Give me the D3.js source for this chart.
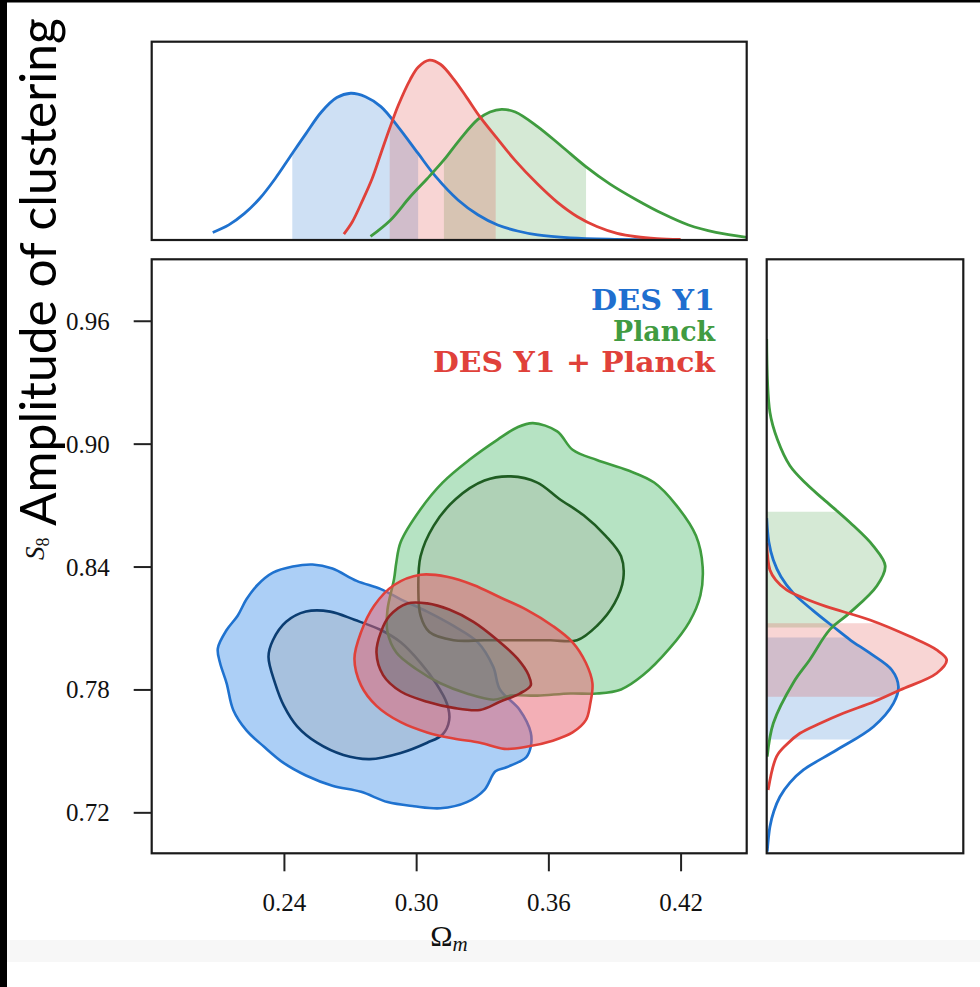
<!DOCTYPE html>
<html>
<head>
<meta charset="utf-8">
<script src="https://cdn.jsdelivr.net/npm/d3@7"></script>
<style>
html, body { margin: 0; padding: 0; background: #fff; }
svg { display: block; }
.tick text { font-family: "Liberation Serif", serif; font-size: 25px; fill: #111; }
.tick line { stroke: #222; stroke-width: 2; }
.frame { fill: none; stroke: #1a1a1a; stroke-width: 2.2; }
</style>
</head>
<body>
<svg id="chart" width="980" height="987"></svg>
<script>
// axis ticks
var omegaTicks = [0.24, 0.30, 0.36, 0.42];
var s8Ticks = [0.72, 0.78, 0.84, 0.90, 0.96];

// legend
var legendLabels = ["DES Y1", "Planck", "DES Y1 + Planck"];

// 2D contours [Omega_m, S8], outer = 95%, inner = 68%
var desOuter = [[0.210,0.800],[0.214,0.809],[0.219,0.816],[0.223,0.824],[0.228,0.831],[0.235,0.837],[0.244,0.840],[0.253,0.841],[0.262,0.839],[0.273,0.833],[0.284,0.829],[0.293,0.824],[0.305,0.818],[0.317,0.811],[0.328,0.803],[0.335,0.791],[0.338,0.780],[0.347,0.770],[0.352,0.759],[0.352,0.752],[0.350,0.747],[0.341,0.742],[0.336,0.740],[0.331,0.731],[0.323,0.725],[0.311,0.722],[0.299,0.723],[0.287,0.725],[0.275,0.730],[0.262,0.733],[0.250,0.738],[0.240,0.744],[0.231,0.752],[0.223,0.760],[0.217,0.770],[0.214,0.783],[0.211,0.793]];
var desInner = [[0.233,0.796],[0.235,0.804],[0.241,0.813],[0.250,0.818],[0.261,0.818],[0.272,0.814],[0.284,0.809],[0.293,0.803],[0.302,0.793],[0.309,0.783],[0.314,0.773],[0.315,0.765],[0.312,0.758],[0.305,0.754],[0.293,0.749],[0.279,0.746],[0.267,0.748],[0.255,0.754],[0.246,0.762],[0.240,0.772],[0.236,0.783]];
var planckOuter = [[0.353,0.910],[0.364,0.906],[0.371,0.897],[0.382,0.892],[0.396,0.887],[0.408,0.881],[0.418,0.870],[0.427,0.855],[0.430,0.840],[0.429,0.826],[0.424,0.813],[0.415,0.800],[0.403,0.787],[0.393,0.780],[0.382,0.778],[0.370,0.778],[0.355,0.777],[0.343,0.777],[0.335,0.775],[0.323,0.778],[0.311,0.783],[0.300,0.790],[0.291,0.798],[0.287,0.808],[0.287,0.819],[0.290,0.834],[0.291,0.842],[0.293,0.852],[0.302,0.868],[0.312,0.881],[0.324,0.892],[0.337,0.902],[0.346,0.908]];
var planckInner = [[0.343,0.884],[0.355,0.881],[0.365,0.873],[0.376,0.865],[0.386,0.855],[0.393,0.845],[0.394,0.834],[0.390,0.822],[0.382,0.811],[0.373,0.804],[0.361,0.804],[0.346,0.804],[0.331,0.804],[0.317,0.804],[0.306,0.808],[0.302,0.816],[0.301,0.829],[0.302,0.845],[0.308,0.860],[0.318,0.873],[0.331,0.882]];
var jointOuter = [[0.272,0.795],[0.275,0.808],[0.281,0.821],[0.290,0.831],[0.302,0.836],[0.314,0.835],[0.326,0.831],[0.338,0.825],[0.350,0.819],[0.362,0.811],[0.371,0.803],[0.377,0.793],[0.380,0.783],[0.379,0.773],[0.377,0.765],[0.371,0.759],[0.362,0.755],[0.350,0.752],[0.340,0.751],[0.329,0.754],[0.317,0.756],[0.305,0.759],[0.293,0.764],[0.282,0.772],[0.275,0.782]];
var jointInner = [[0.282,0.798],[0.284,0.808],[0.288,0.816],[0.296,0.822],[0.305,0.822],[0.315,0.819],[0.326,0.813],[0.337,0.804],[0.346,0.795],[0.351,0.787],[0.352,0.782],[0.347,0.778],[0.338,0.774],[0.329,0.770],[0.317,0.771],[0.305,0.774],[0.293,0.779],[0.285,0.787]];

// 1D marginals [value, density]
var desOmega = [[0.2077,0.042],[0.215,0.084],[0.222,0.146],[0.229,0.23],[0.236,0.34],[0.2438,0.48],[0.25,0.59],[0.257,0.71],[0.264,0.79],[0.2703,0.814],[0.277,0.795],[0.284,0.74],[0.292,0.625],[0.3009,0.48],[0.309,0.35],[0.319,0.222],[0.328,0.14],[0.337,0.083],[0.346,0.05],[0.3551,0.028],[0.37,0.012],[0.39,0.004],[0.4146,0.0]];
var planckOmega = [[0.2793,0.02],[0.2883,0.11],[0.2973,0.24],[0.305,0.34],[0.3126,0.444],[0.32,0.56],[0.328,0.669],[0.3335,0.71],[0.3388,0.725],[0.345,0.71],[0.3551,0.629],[0.366,0.52],[0.377,0.407],[0.388,0.31],[0.4001,0.222],[0.412,0.145],[0.4236,0.083],[0.436,0.042],[0.45,0.015]];
var jointOmega = [[0.2672,0.033],[0.271,0.10],[0.2757,0.22],[0.28,0.34],[0.284,0.48],[0.288,0.62],[0.292,0.75],[0.2973,0.89],[0.301,0.96],[0.306,0.998],[0.311,0.975],[0.3172,0.89],[0.323,0.79],[0.3289,0.684],[0.3361,0.573],[0.345,0.44],[0.3551,0.31],[0.364,0.21],[0.3732,0.129],[0.382,0.075],[0.3912,0.037],[0.40,0.018],[0.4093,0.008],[0.42,0.003]];
var desS8 = [[0.7008,0.003],[0.713,0.018],[0.7205,0.04],[0.7276,0.074],[0.7345,0.13],[0.7407,0.205],[0.7504,0.391],[0.7618,0.597],[0.7732,0.709],[0.7813,0.737],[0.7895,0.70],[0.7977,0.578],[0.804,0.47],[0.8106,0.373],[0.8185,0.26],[0.827,0.149],[0.835,0.08],[0.8432,0.037],[0.852,0.012],[0.8636,0.0]];
var planckS8 = [[0.7472,0.003],[0.7635,0.037],[0.7833,0.149],[0.7944,0.24],[0.8093,0.354],[0.8175,0.466],[0.8305,0.616],[0.8403,0.663],[0.85,0.597],[0.8615,0.466],[0.8729,0.317],[0.8805,0.22],[0.8892,0.13],[0.902,0.06],[0.9153,0.018],[0.9511,0.0]];
var jointS8 = [[0.7309,0.008],[0.7472,0.055],[0.753,0.11],[0.7586,0.186],[0.7635,0.30],[0.7684,0.428],[0.774,0.60],[0.7797,0.746],[0.7879,0.951],[0.7944,1.007],[0.7993,0.951],[0.8058,0.802],[0.8139,0.578],[0.8204,0.335],[0.8245,0.21],[0.8286,0.111],[0.8335,0.05],[0.8383,0.018],[0.8514,0.0]];

// 68% intervals shaded in the marginals
var desOmegaBand = [0.2438, 0.3009];
var planckOmegaBand = [0.3126, 0.3771];
var jointOmegaBand = [0.288, 0.3361];
var desS8Band = [0.7556, 0.8054];
var planckS8Band = [0.8102, 0.8667];
var jointS8Band = [0.7764, 0.8123];

var svg = d3.select('#chart');

var main = {left: 151.7, right: 746.7, top: 259.3, bottom: 853.3};
var topBox = {top: 41.7, bottom: 240};
var side = {left: 766.7, right: 963.3};

var x = d3.scaleLinear().domain([0.18, 0.45]).range([main.left, main.right]);
var y = d3.scaleLinear().domain([0.70, 0.99]).range([main.bottom, main.top]);
var yTop = d3.scaleLinear().domain([0, 1.1]).range([topBox.bottom, topBox.top]);
var xSide = d3.scaleLinear().domain([0, 1.1]).range([side.left, side.right]);

var sets = [
	{name: 'des', line: '#1f72cf', inner: '#0b3d72', outerFill: 'rgb(90,160,238)', outerOp: 0.5, innerFill: 'rgb(150,140,130)', innerOp: 0.2,
		outer: desOuter, in68: desInner, om: desOmega, s8: desS8, omBand: desOmegaBand, s8Band: desS8Band},
	{name: 'planck', line: '#3f9c3f', inner: '#1f5d22', outerFill: 'rgb(110,200,135)', outerOp: 0.5, innerFill: 'rgb(150,140,130)', innerOp: 0.2,
		outer: planckOuter, in68: planckInner, om: planckOmega, s8: planckS8, omBand: planckOmegaBand, s8Band: planckS8Band},
	{name: 'joint', line: '#e0413a', inner: '#962424', outerFill: 'rgb(232,95,110)', outerOp: 0.5, innerFill: 'rgb(45,100,100)', innerOp: 0.33,
		outer: jointOuter, in68: jointInner, om: jointOmega, s8: jointS8, omBand: jointOmegaBand, s8Band: jointS8Band}
];

// page edges of the screenshot
svg.append('rect').attr('x', 7).attr('y', 940).attr('width', 973).attr('height', 22).attr('fill', '#f7f7f7');
svg.append('rect').attr('x', 0).attr('y', 0).attr('width', 7).attr('height', 987).attr('fill', '#000');
svg.append('rect').attr('x', 0).attr('y', 0).attr('width', 980).attr('height', 2.5).attr('fill', '#000');

var defs = svg.append('defs');
function clipRect(id, x0, y0, x1, y1) {
	defs.append('clipPath').attr('id', id).append('rect')
		.attr('x', Math.min(x0, x1)).attr('y', Math.min(y0, y1))
		.attr('width', Math.abs(x1 - x0)).attr('height', Math.abs(y1 - y0));
	return 'url(#' + id + ')';
}

// ---- top marginal (Omega_m)
var topClip = clipRect('clip-top', main.left, topBox.top, main.right, topBox.bottom);
var gTop = svg.append('g').attr('clip-path', topClip);
var topArea = d3.area().x(function(d) { return x(d[0]); }).y0(yTop(0)).y1(function(d) { return yTop(d[1]); }).curve(d3.curveCatmullRom);
var topLine = d3.line().x(function(d) { return x(d[0]); }).y(function(d) { return yTop(d[1]); }).curve(d3.curveCatmullRom);

sets.forEach(function(s) {
	var c = clipRect('band-om-' + s.name, x(s.omBand[0]), topBox.top, x(s.omBand[1]), topBox.bottom);
	gTop.append('g').attr('clip-path', c).append('path')
		.attr('d', topArea(s.om)).attr('fill', s.line).attr('fill-opacity', 0.22);
});
sets.forEach(function(s) {
	gTop.append('path').attr('d', topLine(s.om)).attr('fill', 'none').attr('stroke', s.line).attr('stroke-width', 2.8);
});
svg.append('rect').attr('class', 'frame').attr('x', main.left).attr('y', topBox.top)
	.attr('width', main.right - main.left).attr('height', topBox.bottom - topBox.top);

// ---- side marginal (S8)
var sideClip = clipRect('clip-side', side.left, main.top, side.right, main.bottom);
var gSide = svg.append('g').attr('clip-path', sideClip);
var sideArea = d3.area().y(function(d) { return y(d[0]); }).x0(xSide(0)).x1(function(d) { return xSide(d[1]); }).curve(d3.curveCatmullRom);
var sideLine = d3.line().y(function(d) { return y(d[0]); }).x(function(d) { return xSide(d[1]); }).curve(d3.curveCatmullRom);

sets.forEach(function(s) {
	var c = clipRect('band-s8-' + s.name, side.left, y(s.s8Band[0]), side.right, y(s.s8Band[1]));
	gSide.append('g').attr('clip-path', c).append('path')
		.attr('d', sideArea(s.s8)).attr('fill', s.line).attr('fill-opacity', 0.22);
});
sets.forEach(function(s) {
	gSide.append('path').attr('d', sideLine(s.s8)).attr('fill', 'none').attr('stroke', s.line).attr('stroke-width', 2.8);
});
svg.append('rect').attr('class', 'frame').attr('x', side.left).attr('y', main.top)
	.attr('width', side.right - side.left).attr('height', main.bottom - main.top);

// ---- main 2D panel
var mainClip = clipRect('clip-main', main.left, main.top, main.right, main.bottom);
var gMain = svg.append('g').attr('clip-path', mainClip);
var contour = d3.line().x(function(d) { return x(d[0]); }).y(function(d) { return y(d[1]); }).curve(d3.curveCatmullRomClosed.alpha(0.5));

sets.forEach(function(s) {
	gMain.append('path').attr('d', contour(s.outer)).attr('fill', s.outerFill).attr('fill-opacity', s.outerOp);
	gMain.append('path').attr('d', contour(s.in68)).attr('fill', s.innerFill).attr('fill-opacity', s.innerOp);
	gMain.append('path').attr('d', contour(s.outer)).attr('fill', 'none').attr('stroke', s.line).attr('stroke-width', 2.6);
	gMain.append('path').attr('d', contour(s.in68)).attr('fill', 'none').attr('stroke', s.inner).attr('stroke-width', 2.6);
});

svg.append('rect').attr('class', 'frame').attr('x', main.left).attr('y', main.top)
	.attr('width', main.right - main.left).attr('height', main.bottom - main.top);

// axes
var fmt = d3.format('.2f');
var yAxis = svg.append('g').attr('transform', 'translate(' + main.left + ',0)')
	.call(d3.axisLeft(y).tickValues(s8Ticks).tickFormat(fmt).tickSize(18).tickSizeOuter(0).tickPadding(24));
var xAxis = svg.append('g').attr('transform', 'translate(0,' + main.bottom + ')')
	.call(d3.axisBottom(x).tickValues(omegaTicks).tickFormat(fmt).tickSize(18).tickSizeOuter(0).tickPadding(22));
yAxis.select('.domain').remove();
xAxis.select('.domain').remove();
yAxis.selectAll('.tick text').attr('dy', '0.34em');

// legend (widths matched to the wide bold serif of the original)
var legendColors = ['#1f6fcf', '#419b41', '#e0413a'];
var legendWidths = [124, 102, 282];
var legend = svg.append('g');
legendLabels.forEach(function(label, i) {
	legend.append('text')
		.attr('x', 715).attr('y', 310 + i * 31)
		.attr('text-anchor', 'end')
		.attr('font-family', '"DejaVu Serif", serif')
		.attr('font-weight', 'bold')
		.attr('font-size', 27)
		.attr('textLength', legendWidths[i])
		.attr('lengthAdjust', 'spacingAndGlyphs')
		.attr('fill', legendColors[i])
		.text(label);
});

// x label
var xl = svg.append('text').attr('x', 449).attr('y', 946).attr('text-anchor', 'middle')
	.attr('font-family', '"Liberation Serif", serif').attr('font-size', 30).attr('fill', '#111');
xl.append('tspan').text('Ω');
xl.append('tspan').attr('font-style', 'italic').attr('font-size', 21).attr('dy', 5).text('m');

// y label S8
var yl = svg.append('text').attr('transform', 'translate(44,560) rotate(-90)')
	.attr('font-family', '"Liberation Serif", serif').attr('font-size', 27).attr('fill', '#111');
yl.append('tspan').attr('font-style', 'italic').text('S');
yl.append('tspan').attr('font-size', 18).attr('dy', 5).text('8');

// overlay annotation
var ann = svg.append('text').attr('transform', 'translate(56,526) rotate(-90)')
	.attr('font-family', 'Lato, "Open Sans", sans-serif').attr('font-size', 52).attr('fill', '#000')
	.text('Amplitude of clustering');
var len = ann.node().getComputedTextLength();
ann.attr('font-size', 52 * 508 / len);
</script>
</body>
</html>
